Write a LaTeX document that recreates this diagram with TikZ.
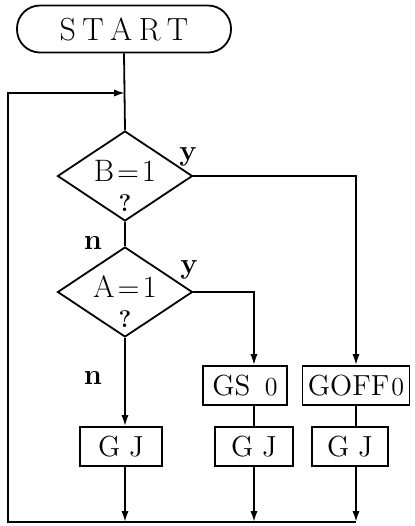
\documentclass[tikz,border=0pt]{standalone}
\usepackage{tikz}
\usetikzlibrary{arrows.meta,positioning,shapes.geometric}
\tikzset{
  startbox/.style={draw=black,line width=0.9pt,rounded corners=11.5pt,minimum width=107pt,minimum height=23.5pt,inner sep=0pt,font=\fontsize{16}{18}\selectfont},
  testbox/.style={diamond,draw=black,line width=0.9pt,aspect=1.5,minimum width=67.5pt,minimum height=45pt,inner sep=0pt},
  testtext/.style={align=center,font=\fontsize{15.5}{15}\selectfont},
  opbox/.style={draw=black,line width=0.9pt,minimum height=19.5pt,inner sep=1pt,font=\fontsize{14.5}{15}\selectfont},
  flow/.style={-{Latex[length=5.5pt,width=3.6pt]},line width=0.9pt},
  plain/.style={line width=0.9pt},
  lab/.style={font=\bfseries\fontsize{14.5}{16}\selectfont}
}
\newcommand{\qmark}{{\fontsize{12}{12}\selectfont\textbf{?}}}
\newcommand{\zero}{{\fontsize{13}{13}\selectfont 0}}

\begin{document}
\begin{tikzpicture}[x=0.5pt,y=0.5pt]
  \useasboundingbox (0,0) rectangle (415,-526);
  % start and the two tests
  \node[startbox] (start) at (124,-29) {S\hspace{0.2em}T\hspace{0.2em}A\hspace{0.2em}R\hspace{0.2em}T};
  \node[testbox,label={[testtext,yshift=-5pt]center:B\kern1.5pt$=$\kern1.5pt1\\\qmark}] (bdia) at (125,-176) {};
  \node[testbox,label={[testtext,yshift=-5pt]center:A\kern1.5pt$=$\kern1.5pt1\\\qmark}] (adia) at (125,-292) {};
  % operation boxes
  \node[opbox,minimum width=42pt] (gs) at (245,-385.5) {GS\hspace{0.5em}\zero};
  \node[opbox,minimum width=53.5pt] (goff) at (356,-385.5) {GOFF\kern1pt\zero};
  \node[opbox,minimum width=41pt] (gja) at (121,-446.5) {G\hspace{0.3em}J};
  \node[opbox,minimum width=39pt] (gjb) at (254,-446.5) {G\hspace{0.3em}J};
  \node[opbox,minimum width=38pt] (gjc) at (350,-446.5) {G\hspace{0.3em}J};
  % branch labels
  \node[lab] (by) at (188,-157) {y};
  \node[lab] (bn) at (93,-243) {n};
  \node[lab] (ay) at (189,-270) {y};
  \node[lab] (an) at (93,-378) {n};
  % return loop points
  \coordinate (merge) at (125,-93);
  \coordinate (bot) at (8,-522);
  % connectors
  \draw[plain] (start.south) -- (bdia.north);
  \draw[plain] (bdia.south) -- (adia.north);
  \draw[flow] (bdia.east) -| (goff.north);
  \draw[flow] (adia.east) -| (gs.north -| gjb.north);
  \draw[flow] (adia.south) -- (adia.south |- gja.north);
  \draw[plain] (gs.south -| gjb.north) -- (gjb.north);
  \draw[plain] (goff.south) -- (goff.south |- gjc.north);
  \draw[flow] (gja.south -| adia.south) -- (adia.south |- bot);
  \draw[flow] (gjb.south) -- (gjb.south |- bot);
  \draw[flow] (gjc.south -| goff.south) -- (goff.south |- bot);
  \draw[flow] (goff.south |- bot) -- (bot) |- (merge);
\end{tikzpicture}
\end{document}
